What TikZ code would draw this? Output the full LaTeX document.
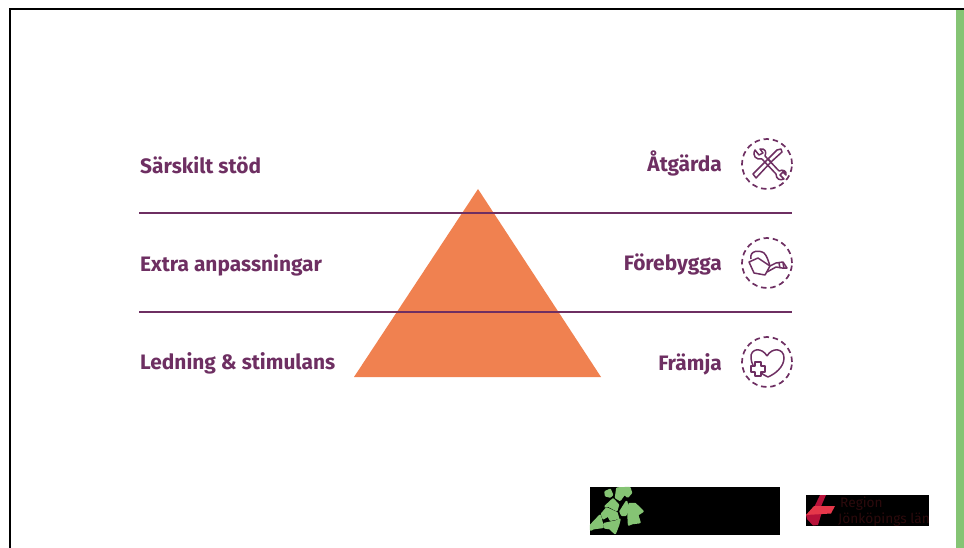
\documentclass[tikz,border=0pt]{standalone}
\usepackage{fontspec}
\setmainfont{Fira Sans}
\definecolor{plum}{HTML}{6E2F62}
\definecolor{pyramid}{HTML}{F08150}
\definecolor{leaf}{HTML}{85C474}
\definecolor{crimson}{HTML}{B8123A}
\definecolor{ribbon}{HTML}{E5384A}
\definecolor{logotext}{HTML}{2C0A0C}
\tikzset{
	levelname/.style={text=plum, font=\fontsize{20.9}{24}\bfseries, inner sep=0pt},
	iconring/.style={draw=plum, circle, dash pattern=on 5.5pt off 3.8pt, line width=1.7pt, minimum size=50pt, inner sep=0pt},
	iconline/.style={draw=plum, line width=1.5pt, line join=round},
	rule/.style={draw=plum, line width=2.4pt},
	county/.style={fill=leaf, draw=leaf, line width=2.4pt, line join=round},
	logoname/.style={anchor=base west, text=logotext, font=\fontsize{13.7}{14}\selectfont, inner sep=0pt}
}
\begin{document}
\begin{tikzpicture}[x=1pt, y=-1pt]
		\useasboundingbox (0,0) rectangle (964,548);
		\fill[white] (0,0) rectangle (964,548);
		% frame
		\fill[leaf] (956,10) rectangle (964,548);
		\fill[black] (9,8) rectangle (964,10.5);
		\fill[black] (9,8) rectangle (11,548);
		% pyramid and rules
		\fill[pyramid] (478,189) -- (601,377) -- (354,377) -- cycle;
		\coordinate (topLeft) at (139,213);
		\coordinate (topRight) at (792,213);
		\coordinate (lowLeft) at (139,312);
		\coordinate (lowRight) at (792,312);
		\draw[rule] (topLeft) -- (topRight);
		\draw[rule] (lowLeft) -- (lowRight);
		% left side
		\node[levelname, anchor=base west] (Sarskilt) at (140,174) {Särskilt stöd};
		\node[levelname, anchor=base west] (Extra) at (140,271) {Extra anpassningar};
		\node[levelname, anchor=base west] (Ledning) at (140,369) {Ledning \& stimulans};
		% right side
		\node[levelname, anchor=base east] (Atgarda) at (722,171.5) {Åtgärda};
		\node[levelname, anchor=base east] (Forebygga) at (722,270.5) {Förebygga};
		\node[levelname, anchor=base east] (Framja) at (722,370) {Främja};
		\node[iconring] (Tools) at (767,164) {};
		\node[iconring] (Can) at (767,263) {};
		\node[iconring] (Heart) at (767,362) {};
		% tools
		\draw[iconline] (753,174) -- (756,178) -- (771,162) -- (768,159) -- cycle;
		\draw[iconline] (768,159) -- (777,150) -- (781,149) -- (782,152) -- (771,162);
		\draw[iconline] (762,159) -- (776,174);
		\draw[iconline] (765,156) -- (779,171);
		\draw[iconline] (762,159) .. controls (756,160) and (752,156) .. (755,150) -- (759,155) -- (763,153) -- (760,149) .. controls (765,148) and (767,152) .. (765,156);
		\draw[iconline] (776,174) .. controls (776,179) and (780,181) .. (784,179) -- (780,175) -- (783,172) -- (786,175) .. controls (787,171) and (783,169) .. (779,171);
		% watering can
		\draw[iconline] (749,262) -- (754,273) -- (765,275) -- (770,266) -- (758,258) -- cycle;
		\draw[iconline] (751,259) .. controls (749,250) and (760,250) .. (764,253) .. controls (767,256) and (768,260) .. (770,266);
		\draw[iconline] (770,266) -- (776,263) -- (783,262) -- (787,268) -- (782,268) -- (776,267) -- (767,272);
		\draw[iconline] (779,263) -- (780,268);
		\draw[iconline] (783,263) -- (784,268);
		% heart
		\draw[iconline] (767,356) .. controls (762,347) and (750,348) .. (751,358) .. controls (751,361) and (752,363) .. (753,365);
		\draw[iconline] (767,356) .. controls (772,347) and (784,348) .. (784,358) .. controls (784,367) and (775,374) .. (768,377) .. controls (765,376) and (763,374) .. (761,373);
		\draw[iconline, fill=white] (755,362) -- (761,362) -- (761,366) -- (765,366) -- (765,372) -- (761,372) -- (761,376) -- (755,376) -- (755,372) -- (751,372) -- (751,366) -- (755,366) -- cycle;
		% logos
		\node[fill=black, minimum width=190pt, minimum height=48pt, inner sep=0pt] (MapLogo) at (685,511) {};
		\fill[county] (605.5,492) -- (610,490) -- (612,494.7) -- (610,496.5) -- (606,495.5) -- cycle;
		\fill[county] (617.3,488.5) -- (629.5,488) -- (631,492.7) -- (627.7,496.5) -- (624.3,493.7) -- (620,499.8) -- (616,497.5) -- cycle;
		\fill[county] (605.5,506.5) -- (613,499.5) -- (618,505) -- (616.5,510) -- (608,505.5) -- cycle;
		\fill[county] (620.5,511.5) -- (626.5,502) -- (627,511.5) -- (625.5,514.8) -- (622,514.8) -- cycle;
		\fill[county] (629.5,504) -- (635,504) -- (642.5,511.3) -- (637.2,514.7) -- (639.5,522.2) -- (631.7,523.2) -- (629,524.5) -- (628.5,515.3) -- cycle;
		\fill[county] (602,514) -- (606.7,508.5) -- (616.5,513) -- (618,518) -- (610.5,519.8) -- (608.3,515.3) -- (603.5,518.2) -- cycle;
		\fill[county] (604.3,524) -- (616.7,521.3) -- (619.5,519.5) -- (618,525.3) -- (615,533) -- (610,528.2) -- (605,527.5) -- cycle;
		\fill[county] (591,525.3) -- (600,515.8) -- (601.5,522) -- (602.5,527) -- (593.3,528.2) -- (591,529.5) -- cycle;
		\node[fill=black, minimum width=123pt, minimum height=31pt, inner sep=0pt] (RegionLogo) at (867.5,510.5) {};
		\fill[crimson] (820,495) -- (826,495) -- (821,506.5) -- (814.5,506.5) -- cycle;
		\fill[crimson] (806,515) -- (812,513.5) -- (821.5,513.5) -- (818,525) -- (813,525.5) -- (807,519) -- cycle;
		\fill[ribbon] (814,506) -- (835,506) -- (831,513.5) -- (806,515) -- cycle;
		\node[logoname] (RegionTop) at (840,507) {Region};
		\node[logoname] (RegionName) at (838,523) {Jönköpings län};
\end{tikzpicture}
\end{document}
